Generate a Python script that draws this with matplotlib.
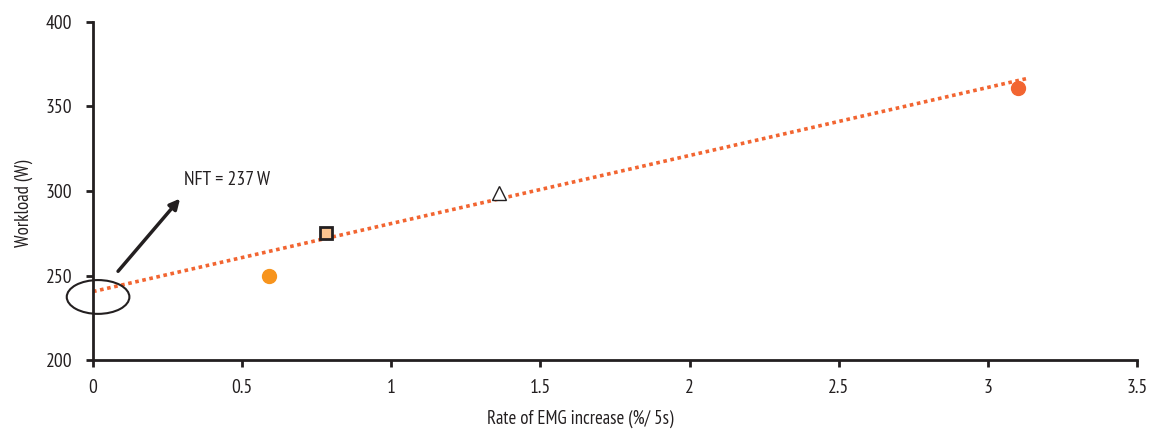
import numpy as np
import matplotlib.pyplot as plt
from matplotlib.patches import Ellipse

plt.rcParams['font.family'] = ['PT Sans Narrow', 'DejaVu Sans']

# Data
emg_rate = [0.59, 0.78, 1.36, 3.10]
workload = [250, 275, 299, 361]
markers = ['o', 's', '^', 'o']
face_colors = ['#F7941D', '#FBC490', 'white', '#F26531']
edge_colors = ['#F7941D', '#231F20', '#231F20', '#F26531']

# Trend line as drawn in the chart
trend_x = [0, 3.13]
trend_y = [240.5, 366.5]
nft_label = 'NFT = 237 W'

fig = plt.figure(figsize=(11.51, 4.29), dpi=100)
ax = fig.add_axes([0.0808, 0.1608, 0.907, 0.788])

ax.plot(trend_x, trend_y, color='#F26531', linestyle=(0, (1, 1)),
        linewidth=2.6, zorder=2)

for x, y, m, fc, ec in zip(emg_rate, workload, markers, face_colors, edge_colors):
    size = {'o': 10, 's': 8.5, '^': 10}[m]
    ax.plot(x, y, marker=m, markersize=size, markerfacecolor=fc,
            markeredgecolor=ec, markeredgewidth=2 if m == 's' else 1,
            linestyle='none', zorder=3)

# Ellipse around the intercept and arrow to the label
ax.add_patch(Ellipse((0.017, 237.3), 0.21, 20, fill=False, edgecolor='#231F20',
                     linewidth=1.5, zorder=4, clip_on=False))
ax.annotate('', xy=(0.292, 295.5), xytext=(0.084, 252.5),
            arrowprops=dict(arrowstyle='-|>', color='#231F20', lw=2.5,
                            mutation_scale=15, shrinkA=0, shrinkB=0))
ax.text(0.305, 306.5, nft_label, fontsize=14, color='#231F20', va='center', ha='left')

ax.set_xlim(0, 3.5)
ax.set_ylim(200, 400)
ax.set_xticks([0, 0.5, 1, 1.5, 2, 2.5, 3, 3.5])
ax.set_xticklabels(['0', '0.5', '1', '1.5', '2', '2.5', '3', '3.5'])
ax.set_yticks([200, 250, 300, 350, 400])

for side in ['top', 'right']:
    ax.spines[side].set_visible(False)
for side in ['left', 'bottom']:
    ax.spines[side].set_linewidth(2)
    ax.spines[side].set_color('#231F20')

ax.tick_params(axis='both', direction='out', length=5, width=2, colors='#231F20',
               labelsize=14)
ax.tick_params(axis='x', pad=9)
ax.tick_params(axis='y', pad=10)
ax.set_xlabel('Rate of EMG increase (%/ 5s)', fontsize=13.5, color='#231F20')
ax.set_ylabel('Workload (W)', fontsize=13.5, color='#231F20')
ax.xaxis.set_label_coords(0.467, -0.148)
ax.yaxis.set_label_coords(-0.057, 0.464)

fig.savefig('out.png', dpi=100)
